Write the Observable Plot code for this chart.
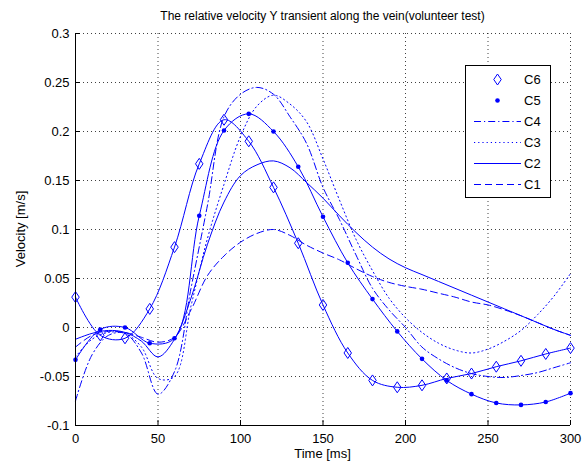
<!DOCTYPE html>
<html>
<head>
<meta charset="utf-8">
<script src="https://cdn.jsdelivr.net/npm/d3@7"></script>
<script src="https://cdn.jsdelivr.net/npm/@observablehq/plot@0.6"></script>
<style>
  body { margin: 0; background: #fff; }
  #wrap { position: relative; width: 587px; height: 466px; font-family: "Liberation Sans", Arial, sans-serif; color: #000; }
  #wrap svg { position: absolute; left: 0; top: 0; }
  .lbl { position: absolute; white-space: nowrap; }
  #title { top: 9px; left: 75px; width: 495px; text-align: center; font-size: 12px; line-height: 15px; }
  #xlabel { top: 446px; left: 75px; width: 495px; text-align: center; font-size: 13px; line-height: 16px; }
  #ylabel { left: 21px; top: 229px; font-size: 13px; line-height: 16px; transform: translate(-50%, -50%) rotate(-90deg); }
</style>
</head>
<body>
<div id="wrap">
  <div id="title" class="lbl">The relative velocity Y transient along the vein(volunteer test)</div>
</div>
<script>
// ---------- data ----------
const timeMarkers = [0, 15, 30, 45, 60, 75, 90, 105, 120, 135, 150, 165, 180, 195, 210, 225, 240, 255, 270, 285, 300];
const timeGrid = [0, 10, 20, 30, 40, 50, 60, 70, 80, 90, 100, 110, 120, 130, 140, 150, 160, 170, 180, 190, 200, 210, 220, 230, 240, 250, 260, 270, 280, 290, 300];

const c6 = [0.031, -0.008, -0.011, 0.019, 0.082, 0.167, 0.212, 0.190, 0.143, 0.086, 0.023, -0.026, -0.054, -0.061, -0.059, -0.052, -0.047, -0.040, -0.034, -0.027, -0.021];
const c5 = [-0.033, -0.002, 0.000, -0.016, -0.011, 0.114, 0.201, 0.218, 0.200, 0.164, 0.113, 0.066, 0.029, -0.004, -0.032, -0.054, -0.068, -0.077, -0.079, -0.076, -0.067];
const c4 = [-0.075, -0.028, -0.008, -0.006, -0.026, -0.068, -0.045, 0.040, 0.125, 0.215, 0.238, 0.245, 0.238, 0.215, 0.188, 0.143, 0.110, 0.074, 0.040, 0.018, 0.000, -0.020, -0.032, -0.041, -0.047, -0.050, -0.051, -0.049, -0.046, -0.041, -0.036];
const c3 = [-0.030, -0.012, -0.005, -0.006, -0.020, -0.052, -0.050, 0.022, 0.091, 0.146, 0.195, 0.226, 0.237, 0.228, 0.210, 0.172, 0.130, 0.090, 0.058, 0.030, 0.010, -0.005, -0.016, -0.023, -0.026, -0.022, -0.014, -0.003, 0.013, 0.032, 0.055];
const c2 = [-0.012, -0.006, -0.003, -0.005, -0.014, -0.030, -0.012, 0.030, 0.085, 0.128, 0.155, 0.166, 0.170, 0.163, 0.148, 0.132, 0.114, 0.097, 0.082, 0.070, 0.061, 0.054, 0.047, 0.040, 0.033, 0.026, 0.019, 0.012, 0.005, -0.002, -0.008];
const c1 = [-0.020, -0.008, -0.004, -0.005, -0.010, -0.015, -0.010, 0.018, 0.053, 0.073, 0.087, 0.096, 0.100, 0.094, 0.084, 0.076, 0.069, 0.060, 0.052, 0.046, 0.042, 0.039, 0.035, 0.031, 0.026, 0.023, 0.018, 0.012, 0.005, -0.002, -0.008];

const seriesNames = ["C6", "C5", "C4", "C3", "C2", "C1"];
const xTicks = [0, 50, 100, 150, 200, 250, 300];
const yTicks = [-0.1, -0.05, 0, 0.05, 0.1, 0.15, 0.2, 0.25, 0.3];
const yTickLabels = ["-0.1", "-0.05", "0", "0.05", "0.1", "0.15", "0.2", "0.25", "0.3"];
const xLabel = "Time [ms]";
const yLabel = "Velocity [m/s]";

// ---------- build ----------
const BLUE = "#0000ff";
const rows = (ts, vs, s) => ts.map((t, i) => ({t, v: vs[i], s}));
const d6 = rows(timeMarkers, c6, "C6");
const d5 = rows(timeMarkers, c5, "C5");
const d4 = rows(timeGrid, c4, "C4");
const d3s = rows(timeGrid, c3, "C3");
const d2 = rows(timeGrid, c2, "C2");
const d1 = rows(timeGrid, c1, "C1");

const dashes = {C6: null, C5: null, C4: "7,3,1.2,3", C3: "1.2,3", C2: null, C1: "7,4"};

const tallDiamond = {
  draw(ctx, size) {
    const r = Math.sqrt(size / Math.PI);
    const hw = r * 0.68, hh = r;
    ctx.moveTo(0, -hh); ctx.lineTo(hw, 0); ctx.lineTo(0, hh); ctx.lineTo(-hw, 0); ctx.closePath();
  }
};

const W = 587, H = 466, mL = 75, mR = 17, mT = 33, mB = 41;
const pw = W - mL - mR, ph = H - mT - mB;

const lineOpts = (s) => ({x: "t", y: "v", curve: "catmull-rom", stroke: BLUE, strokeWidth: 1, strokeDasharray: dashes[s]});

const chart = Plot.plot({
  width: W, height: H,
  marginLeft: mL, marginRight: mR, marginTop: mT, marginBottom: mB,
  style: {fontFamily: "'Liberation Sans', Arial, sans-serif", fontSize: "13px", color: "#000", background: "transparent", overflow: "visible"},
  x: {domain: [0, 300], ticks: xTicks, tickSize: 0, tickPadding: 8, label: null},
  y: {domain: [-0.1, 0.3], ticks: yTicks, tickSize: 0, tickPadding: 6, label: null,
      tickFormat: d => yTickLabels[yTicks.indexOf(d)]},
  marks: [
    Plot.ruleX(xTicks, {x: d => d, stroke: "#000", strokeOpacity: 0.75, strokeDasharray: "1,3"}),
    Plot.ruleY(yTicks, {y: d => d, stroke: "#000", strokeOpacity: 0.75, strokeDasharray: "1,3"}),
    Plot.line(d1, lineOpts("C1")),
    Plot.line(d2, lineOpts("C2")),
    Plot.line(d3s, lineOpts("C3")),
    Plot.line(d4, lineOpts("C4")),
    Plot.line(d5, lineOpts("C5")),
    Plot.line(d6, lineOpts("C6")),
    Plot.dot(d5, {x: "t", y: "v", r: 2.3, fill: BLUE, stroke: "none"}),
    Plot.dot(d6, {x: "t", y: "v", r: 5.5, symbol: tallDiamond, fill: "none", stroke: BLUE, strokeWidth: 1}),
    Plot.ruleX(xTicks, {x: d => d, stroke: "#000", insetTop: ph - 5}),
    Plot.ruleY(yTicks, {y: d => d, stroke: "#000", insetRight: pw - 5}),
    Plot.ruleX([0], {stroke: "#000", strokeWidth: 1}),
    Plot.ruleY([-0.1], {stroke: "#000", strokeWidth: 1})
  ]
});

const wrap = document.getElementById("wrap");
wrap.appendChild(chart);

// axis labels
const xl = document.createElement("div"); xl.id = "xlabel"; xl.className = "lbl"; xl.textContent = xLabel; wrap.appendChild(xl);
const yl = document.createElement("div"); yl.id = "ylabel"; yl.className = "lbl"; yl.textContent = yLabel; wrap.appendChild(yl);

// legend
const ns = "http://www.w3.org/2000/svg";
const lg = document.createElementNS(ns, "svg");
lg.setAttribute("width", W); lg.setAttribute("height", H);
lg.style.pointerEvents = "none";
const box = {x: 465.5, y: 65.5, w: 85, h: 132};
const mk = (tag, attrs) => { const e = document.createElementNS(ns, tag); for (const k in attrs) e.setAttribute(k, attrs[k]); lg.appendChild(e); return e; };
mk("rect", {x: box.x, y: box.y, width: box.w, height: box.h, fill: "#fff", stroke: "#000", "stroke-width": 1});
const rowH = 21, firstY = 79.5, lx1 = 474, lx2 = 521, tx = 524;
seriesNames.forEach((s, i) => {
  const y = firstY + i * rowH;
  if (s === "C6") {
    const cx = (lx1 + lx2) / 2, hh = 5.5, hw = hh * 0.68;
    mk("path", {d: `M${cx},${y - hh}L${cx + hw},${y}L${cx},${y + hh}L${cx - hw},${y}Z`, fill: "none", stroke: BLUE, "stroke-width": 1});
  } else if (s === "C5") {
    mk("circle", {cx: (lx1 + lx2) / 2, cy: y, r: 2.3, fill: BLUE});
  } else {
    const l = mk("line", {x1: lx1, x2: lx2, y1: y, y2: y, stroke: BLUE, "stroke-width": 1});
    if (dashes[s]) l.setAttribute("stroke-dasharray", dashes[s]);
  }
  const t = mk("text", {x: tx, y: y, "dominant-baseline": "central", "font-size": 13, "font-family": "'Liberation Sans', Arial, sans-serif", fill: "#000"});
  t.textContent = s;
});
wrap.appendChild(lg);
</script>
</body>
</html>
